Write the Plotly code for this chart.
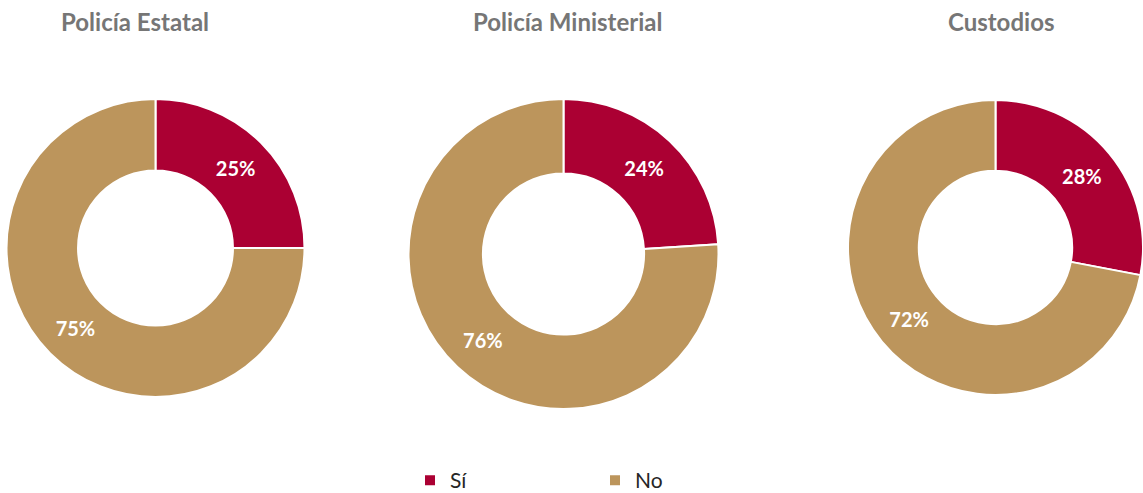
import plotly.graph_objects as go

W, H = 1143, 493
titles = ["Policía Estatal", "Policía Ministerial", "Custodios"]
labels = ["Sí", "No"]
si_values = [25, 24, 28]
no_values = [75, 76, 72]
colors = ["#AB0033", "#BC955C"]

# pixel boxes (x0, x1, y0_top, y1_bottom) for each donut
boxes = [(6.5, 304.5, 99, 397), (408.5, 718.5, 99, 409), (848, 1143, 99, 396)]
title_x = [134.5, 567, 1001]

fig = go.Figure()
for i, (t, s, n) in enumerate(zip(titles, si_values, no_values)):
    x0, x1, y0, y1 = boxes[i]
    fig.add_trace(go.Pie(
        labels=labels, values=[s, n], hole=0.52, sort=False,
        direction="clockwise", rotation=0,
        marker=dict(colors=colors, line=dict(color="white", width=2)),
        texttemplate="%{value}%", textposition="inside",
        insidetextorientation="horizontal",
        textfont=dict(family="Lato", size=20, color="white", weight="bold"),
        hoverinfo="label+percent",
        domain=dict(x=[x0 / W, x1 / W], y=[1 - y1 / H, 1 - y0 / H]),
        showlegend=(i == 0), name=t,
    ))
    fig.add_annotation(text="<b>%s</b>" % t, x=title_x[i] / W, y=1 - 22 / H,
                       xref="paper", yref="paper", showarrow=False,
                       xanchor="center", yanchor="middle",
                       font=dict(family="Lato", size=24, color="#767676"))

fig.update_layout(
    width=W, height=H, margin=dict(l=0, r=0, t=0, b=0, autoexpand=False),
    paper_bgcolor="white", plot_bgcolor="white",
    legend=dict(orientation="h", x=410 / W, xanchor="left", y=-8 / H,
                yanchor="bottom", entrywidth=140, entrywidthmode="pixels",
                font=dict(family="Lato", size=21, color="#262626"),
                traceorder="normal"),
)
fig.write_html("out.html", config={"displayModeBar": False},
               post_script="document.body.style.margin='0';")
